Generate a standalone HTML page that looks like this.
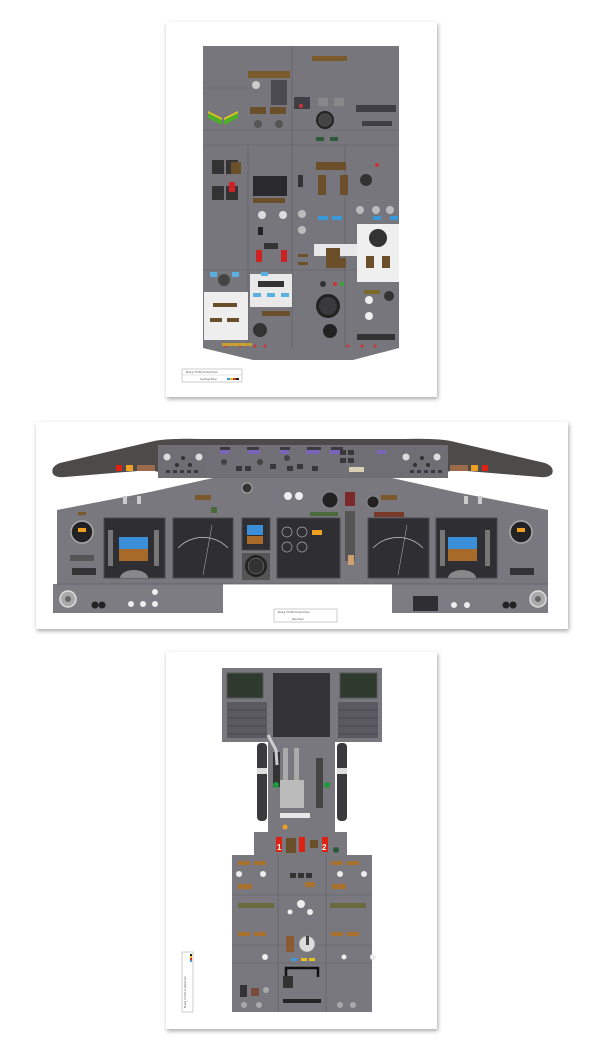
<!DOCTYPE html>
<html><head><meta charset="utf-8"><style>
html,body{margin:0;padding:0;background:#fff;}
svg{display:block;font-family:"Liberation Sans",sans-serif;}
</style></head><body>
<svg width="604" height="1048" viewBox="0 0 604 1048" xmlns="http://www.w3.org/2000/svg">
<defs>
<filter id="sh" x="-5%" y="-5%" width="110%" height="110%"><feDropShadow dx="1" dy="2" stdDeviation="2" flood-color="#000" flood-opacity="0.35"/></filter>
</defs>
<!-- PAGE 1 overhead -->
<rect x="166" y="22" width="271" height="375" fill="#fff" filter="url(#sh)"/>
<path d="M203 46 H399 V348 L353 360 H253 L203 348 Z" fill="#76767c"/>
<g stroke="#5e5e64" stroke-width="0.6" fill="none">
<line x1="203" y1="130" x2="399" y2="130"/><line x1="203" y1="145" x2="399" y2="145"/>
<line x1="203" y1="270" x2="399" y2="270"/><line x1="292" y1="46" x2="292" y2="348"/>
<line x1="248" y1="145" x2="248" y2="348"/><line x1="345" y1="145" x2="345" y2="348"/>
<line x1="203" y1="88" x2="248" y2="88"/>
</g>
<!-- top-left details -->
<rect x="248" y="71" width="42" height="7" fill="#7a5a2a"/>
<rect x="271" y="80" width="16" height="25" fill="#4a4a50"/>
<circle cx="256" cy="85" r="4" fill="#ccc"/>
<rect x="250" y="107" width="16" height="7" fill="#6b4f2a"/><rect x="270" y="107" width="16" height="7" fill="#6b4f2a"/>
<polygon points="208,113 222,120 222,125 208,118" fill="#4caf2a"/><polygon points="208,111 222,118 222,120 208,113" fill="#e4c21c"/>
<polygon points="238,113 224,120 224,125 238,118" fill="#4caf2a"/><polygon points="238,111 224,118 224,120 238,113" fill="#e4c21c"/>
<circle cx="258" cy="124" r="4" fill="#555"/><circle cx="279" cy="124" r="4" fill="#555"/>
<rect x="294" y="97" width="16" height="12" fill="#3e3e44"/><circle cx="301" cy="106" r="2" fill="#c33"/>
<rect x="312" y="56" width="35" height="5" fill="#7a5a2a"/>
<circle cx="325" cy="120" r="9" fill="#222"/><circle cx="325" cy="120" r="7" fill="#444"/>
<rect x="318" y="98" width="10" height="8" fill="#888"/><rect x="334" y="98" width="10" height="8" fill="#888"/>
<rect x="356" y="105" width="40" height="7" fill="#3e3e44"/><rect x="362" y="121" width="30" height="5" fill="#3e3e44"/>
<rect x="316" y="137" width="8" height="4" fill="#2f5a3a"/><rect x="330" y="137" width="8" height="4" fill="#2f5a3a"/>
<!-- middle section -->
<rect x="212" y="160" width="12" height="14" fill="#333"/><rect x="226" y="160" width="12" height="14" fill="#333"/>
<rect x="212" y="186" width="12" height="14" fill="#333"/><rect x="226" y="186" width="12" height="14" fill="#333"/>
<rect x="231" y="162" width="10" height="12" fill="#6b4f2a"/>
<rect x="229" y="182" width="6" height="10" fill="#c22"/>
<rect x="253" y="176" width="34" height="20" fill="#2a2a2e"/>
<rect x="253" y="198" width="32" height="5" fill="#6b4f2a"/>
<circle cx="262" cy="215" r="4" fill="#ddd"/><circle cx="283" cy="215" r="4" fill="#ddd"/>
<rect x="258" y="227" width="5" height="8" fill="#222"/>
<rect x="256" y="250" width="6" height="12" fill="#c22"/><rect x="281" y="250" width="6" height="12" fill="#c22"/>
<rect x="264" y="243" width="14" height="6" fill="#333"/>
<rect x="316" y="162" width="30" height="8" fill="#6b4f2a"/>
<rect x="318" y="175" width="8" height="20" fill="#6b4f2a"/><rect x="340" y="175" width="8" height="20" fill="#6b4f2a"/>
<circle cx="366" cy="180" r="6" fill="#333"/><circle cx="377" cy="165" r="2" fill="#c33"/>
<rect x="318" y="216" width="10" height="4" fill="#3a9ad9"/><rect x="332" y="216" width="10" height="4" fill="#3a9ad9"/>
<rect x="373" y="216" width="8" height="4" fill="#3a9ad9"/><rect x="390" y="216" width="8" height="4" fill="#3a9ad9"/>
<circle cx="360" cy="210" r="4" fill="#bbb"/><circle cx="376" cy="210" r="4" fill="#bbb"/><circle cx="390" cy="210" r="4" fill="#bbb"/>
<rect x="298" y="175" width="5" height="12" fill="#333"/>
<circle cx="302" cy="214" r="4" fill="#bbb"/><circle cx="302" cy="230" r="4" fill="#bbb"/>
<rect x="314" y="244" width="44" height="12" fill="#e8e8ea"/>
<rect x="326" y="248" width="14" height="10" fill="#6b4f2a"/>
<rect x="326" y="258" width="20" height="10" fill="#6b4f2a"/>
<rect x="357" y="224" width="42" height="58" fill="#efefef"/>
<circle cx="378" cy="238" r="9" fill="#333"/>
<rect x="366" y="256" width="8" height="12" fill="#6b4f2a"/><rect x="382" y="256" width="8" height="12" fill="#6b4f2a"/>
<rect x="298" y="254" width="10" height="3" fill="#6b4f2a"/><rect x="298" y="262" width="10" height="3" fill="#6b4f2a"/>
<!-- lower -->
<rect x="210" y="272" width="7" height="5" fill="#5ab0e0"/><rect x="232" y="272" width="7" height="5" fill="#5ab0e0"/>
<circle cx="224" cy="280" r="6" fill="#444"/>
<rect x="204" y="292" width="44" height="48" fill="#eeeeee"/>
<rect x="213" y="303" width="24" height="4" fill="#6b4f2a"/><rect x="210" y="318" width="12" height="4" fill="#6b4f2a"/><rect x="227" y="318" width="12" height="4" fill="#6b4f2a"/>
<rect x="250" y="274" width="42" height="33" fill="#e9e9ea"/>
<rect x="258" y="281" width="26" height="6" fill="#333"/>
<rect x="253" y="293" width="8" height="4" fill="#5ab0e0"/><rect x="267" y="293" width="8" height="4" fill="#5ab0e0"/><rect x="281" y="293" width="8" height="4" fill="#5ab0e0"/>
<rect x="261" y="272" width="7" height="4" fill="#5ab0e0"/>
<circle cx="260" cy="330" r="7" fill="#333"/>
<rect x="262" y="311" width="28" height="5" fill="#6b4f2a"/>
<circle cx="328" cy="306" r="12" fill="#222"/><circle cx="328" cy="306" r="9" fill="#3a3a3e"/>
<circle cx="330" cy="331" r="7" fill="#222"/>
<circle cx="323" cy="284" r="3" fill="#333"/><circle cx="335" cy="284" r="2" fill="#c33"/><circle cx="342" cy="284" r="2" fill="#3a3"/>
<rect x="364" y="290" width="16" height="4" fill="#7a6a2a"/>
<circle cx="369" cy="300" r="4" fill="#eee"/><circle cx="369" cy="316" r="4" fill="#eee"/>
<circle cx="389" cy="296" r="5" fill="#333"/>
<rect x="357" y="334" width="38" height="6" fill="#333"/>
<g fill="#c33"><circle cx="226" cy="346" r="1.5"/><circle cx="240" cy="346" r="1.5"/><circle cx="255" cy="346" r="1.5"/><circle cx="265" cy="346" r="1.5"/><circle cx="348" cy="346" r="1.5"/><circle cx="362" cy="346" r="1.5"/><circle cx="375" cy="346" r="1.5"/></g>
<rect x="222" y="343" width="30" height="3" fill="#c9a030"/>
<rect x="182" y="369" width="60" height="13" fill="#fff" stroke="#999" stroke-width="0.5"/>
<line x1="182" y1="375" x2="242" y2="375" stroke="#bbb" stroke-width="0.4"/>
<text x="186" y="373" font-size="2.3" fill="#555">Boeing 737-800 Cockpit Poster</text>
<text x="200" y="380" font-size="2.3" fill="#555">Overhead Panel</text>
<rect x="227" y="378" width="3" height="2" fill="#3a9ad9"/><rect x="230" y="378" width="3" height="2" fill="#e4c21c"/><rect x="233" y="378" width="3" height="2" fill="#c33"/><rect x="236" y="378" width="3" height="2" fill="#222"/>

<!-- PAGE 2 main panel -->
<rect x="36" y="422" width="532" height="207" fill="#fff" filter="url(#sh)"/>
<!-- main panel body -->
<path d="M57 510 L150 492 L213 478 H392 L455 492 L548 510 V584 H392 V613 H392 V584 H223 V584 H57 Z" fill="#78787e"/>
<path d="M53 584 H223 V613 H53 Z" fill="#7c7c82"/>
<path d="M392 584 H548 V613 H392 Z" fill="#7c7c82"/>
<line x1="57" y1="584" x2="548" y2="584" stroke="#5e5e64" stroke-width="0.8"/>
<!-- glareshield -->
<path d="M53 474 Q50 467 60 463 L150 442 Q165 438 200 439 H404 Q440 438 455 442 L545 463 Q555 467 552 474 Q548 478 540 477 L455 470 L420 478 H185 L150 470 L65 477 Q56 478 53 474 Z" fill="#4d4a4a"/>
<rect x="158" y="445" width="290" height="33" fill="#6e6e74"/>
<rect x="206" y="446" width="144" height="31" fill="#707076"/>
<g fill="#ddd"><circle cx="167" cy="457" r="3.5"/><circle cx="199" cy="457" r="3.5"/><circle cx="406" cy="457" r="3.5"/><circle cx="437" cy="457" r="3.5"/></g>
<g fill="#333"><circle cx="183" cy="458" r="2"/><circle cx="177" cy="465" r="2"/><circle cx="190" cy="465" r="2"/><circle cx="422" cy="458" r="2"/><circle cx="415" cy="465" r="2"/><circle cx="428" cy="465" r="2"/></g>
<g fill="#3a3a40"><rect x="220" y="447" width="10" height="3"/><rect x="247" y="447" width="12" height="3"/><rect x="280" y="447" width="10" height="3"/><rect x="307" y="447" width="14" height="3"/><rect x="331" y="447" width="12" height="3"/></g>
<g fill="#7a66b8"><rect x="220" y="450" width="9" height="4"/><rect x="248" y="450" width="12" height="4"/><rect x="280" y="450" width="9" height="4"/><rect x="306" y="450" width="14" height="4"/><rect x="330" y="450" width="12" height="4"/><rect x="377" y="450" width="9" height="4"/></g>
<g fill="#38383c"><rect x="236" y="466" width="6" height="5"/><rect x="245" y="466" width="6" height="5"/><rect x="270" y="464" width="6" height="5"/><rect x="287" y="466" width="6" height="5"/><rect x="297" y="464" width="6" height="5"/><rect x="312" y="466" width="6" height="5"/><rect x="340" y="450" width="6" height="5"/><rect x="348" y="450" width="6" height="5"/><rect x="340" y="458" width="6" height="5"/><rect x="348" y="458" width="6" height="5"/></g>
<rect x="349" y="467" width="15" height="5" fill="#d8cfb4"/>
<g fill="#444"><circle cx="224" cy="462" r="3"/><circle cx="260" cy="462" r="3"/><circle cx="287" cy="458" r="3"/></g>
<rect x="116" y="465" width="6" height="6" fill="#d21"/><rect x="126" y="465" width="7" height="6" fill="#f0a020"/><rect x="137" y="465" width="18" height="6" fill="#9a6a4a"/>
<rect x="482" y="465" width="6" height="6" fill="#d21"/><rect x="471" y="465" width="7" height="6" fill="#f0a020"/><rect x="450" y="465" width="18" height="6" fill="#9a6a4a"/>
<g fill="#3a3a40"><rect x="166" y="470" width="4" height="3"/><rect x="173" y="470" width="4" height="3"/><rect x="180" y="470" width="4" height="3"/><rect x="187" y="470" width="4" height="3"/><rect x="194" y="470" width="4" height="3"/><rect x="410" y="470" width="4" height="3"/><rect x="417" y="470" width="4" height="3"/><rect x="424" y="470" width="4" height="3"/><rect x="431" y="470" width="4" height="3"/><rect x="438" y="470" width="4" height="3"/></g>
<!-- displays -->
<g fill="#2f2f33" stroke="#4a4a50" stroke-width="1">
<rect x="104" y="518" width="61" height="60"/><rect x="173" y="518" width="60" height="60"/>
<rect x="277" y="518" width="63" height="60"/><rect x="368" y="518" width="61" height="60"/><rect x="436" y="518" width="61" height="60"/>
<rect x="242" y="518" width="28" height="32"/>
</g>
<rect x="242" y="553" width="28" height="27" fill="#555"/>
<circle cx="256" cy="566" r="11" fill="#222"/><circle cx="256" cy="566" r="8" fill="#333" stroke="#888" stroke-width="0.5"/>
<!-- PFD -->
<rect x="119" y="537" width="29" height="12" fill="#3b8ed8"/><rect x="119" y="549" width="29" height="12" fill="#a86a28"/>
<rect x="448" y="537" width="29" height="12" fill="#3b8ed8"/><rect x="448" y="549" width="29" height="12" fill="#a86a28"/>
<g fill="#777"><rect x="108" y="530" width="5" height="36"/><rect x="154" y="530" width="5" height="36"/><rect x="440" y="530" width="5" height="36"/><rect x="485" y="530" width="5" height="36"/></g>
<path d="M120 578 A14 8 0 0 1 148 578 Z" fill="#888"/><path d="M448 578 A14 8 0 0 1 476 578 Z" fill="#888"/>
<rect x="247" y="525" width="16" height="10" fill="#3b8ed8"/><rect x="247" y="536" width="16" height="8" fill="#a86a28"/>
<!-- ND -->
<path d="M178 548 A35 35 0 0 1 228 548" fill="none" stroke="#ccc" stroke-width="0.7"/>
<path d="M373 548 A35 35 0 0 1 423 548" fill="none" stroke="#ccc" stroke-width="0.7"/>
<line x1="203" y1="575" x2="212" y2="525" stroke="#bbb" stroke-width="0.5"/><line x1="398" y1="575" x2="407" y2="525" stroke="#bbb" stroke-width="0.5"/>
<!-- EICAS -->
<rect x="312" y="530" width="10" height="5" fill="#f0a020"/>
<g fill="none" stroke="#aaa" stroke-width="0.7"><circle cx="287" cy="532" r="5"/><circle cx="302" cy="532" r="5"/><circle cx="287" cy="547" r="5"/><circle cx="302" cy="547" r="5"/></g>
<!-- standby clocks -->
<circle cx="82" cy="532" r="11" fill="#222" stroke="#aaa" stroke-width="1.5"/><rect x="78" y="528" width="8" height="4" fill="#f0a020"/>
<circle cx="521" cy="532" r="11" fill="#222" stroke="#aaa" stroke-width="1.5"/><rect x="517" y="528" width="8" height="4" fill="#f0a020"/>
<rect x="72" y="568" width="24" height="7" fill="#333"/><rect x="510" y="568" width="24" height="7" fill="#333"/>
<rect x="70" y="555" width="24" height="6" fill="#555"/>
<!-- center upper -->
<circle cx="247" cy="488" r="5" fill="#333" stroke="#aaa" stroke-width="1"/>
<circle cx="288" cy="496" r="4" fill="#eee"/><circle cx="299" cy="496" r="4" fill="#eee"/>
<circle cx="330" cy="500" r="8" fill="#222" stroke="#999" stroke-width="0.7"/>
<circle cx="373" cy="502" r="6" fill="#222" stroke="#999" stroke-width="0.7"/>
<rect x="345" y="492" width="10" height="14" fill="#7a2a2a"/>
<rect x="345" y="511" width="10" height="50" fill="#555"/>
<rect x="348" y="555" width="6" height="10" fill="#d0a070"/>
<rect x="195" y="495" width="16" height="5" fill="#7a5a2a"/><rect x="381" y="495" width="16" height="5" fill="#7a5a2a"/>
<rect x="374" y="512" width="30" height="5" fill="#7a3a2a"/><rect x="310" y="512" width="28" height="4" fill="#4a6a3a"/>
<rect x="211" y="507" width="6" height="6" fill="#4a6a3a"/>
<rect x="123" y="496" width="4" height="8" fill="#ccc"/><rect x="137" y="496" width="4" height="8" fill="#ccc"/>
<rect x="464" y="496" width="4" height="8" fill="#ccc"/><rect x="478" y="496" width="4" height="8" fill="#ccc"/>
<rect x="78" y="512" width="8" height="3" fill="#7a5a2a"/>
<!-- lower strips -->
<circle cx="68" cy="599" r="8" fill="#aaa" stroke="#ddd" stroke-width="1.5"/><circle cx="68" cy="599" r="3" fill="#666"/>
<circle cx="538" cy="599" r="8" fill="#aaa" stroke="#ddd" stroke-width="1.5"/><circle cx="538" cy="599" r="3" fill="#666"/>
<circle cx="95" cy="605" r="3.5" fill="#222"/><circle cx="102" cy="605" r="3.5" fill="#222"/>
<circle cx="506" cy="605" r="3.5" fill="#222"/><circle cx="513" cy="605" r="3.5" fill="#222"/>
<g fill="#eee"><circle cx="131" cy="604" r="3"/><circle cx="143" cy="604" r="3"/><circle cx="155" cy="604" r="3"/><circle cx="155" cy="592" r="3"/><circle cx="454" cy="605" r="3"/><circle cx="467" cy="605" r="3"/></g>
<rect x="413" y="596" width="25" height="15" fill="#2f2f33"/>
<rect x="274" y="609" width="63" height="13" fill="#fff" stroke="#999" stroke-width="0.5"/>
<text x="278" y="613" font-size="2.3" fill="#555">Boeing 737-800 Cockpit Poster</text>
<text x="292" y="620" font-size="2.3" fill="#555">Main Panel</text>

<!-- PAGE 3 pedestal -->
<rect x="166" y="652" width="271" height="377" fill="#fff" filter="url(#sh)"/>
<rect x="222" y="668" width="160" height="74" fill="#78787e"/>
<rect x="227" y="673" width="36" height="25" fill="#2e3a2e" stroke="#555" stroke-width="1"/>
<rect x="340" y="673" width="37" height="25" fill="#2e3a2e" stroke="#555" stroke-width="1"/>
<g fill="#5a5a60"><rect x="227" y="702" width="40" height="36"/><rect x="338" y="702" width="40" height="36"/></g>
<g stroke="#3a3a40" stroke-width="0.6">
<line x1="227" y1="710" x2="267" y2="710"/><line x1="227" y1="718" x2="267" y2="718"/><line x1="227" y1="726" x2="267" y2="726"/><line x1="227" y1="734" x2="267" y2="734"/>
<line x1="338" y1="710" x2="378" y2="710"/><line x1="338" y1="718" x2="378" y2="718"/><line x1="338" y1="726" x2="378" y2="726"/><line x1="338" y1="734" x2="378" y2="734"/>
</g>
<rect x="273" y="673" width="57" height="64" fill="#333336"/>
<rect x="268" y="742" width="67" height="90" fill="#78787e"/>
<rect x="257" y="743" width="10" height="78" rx="4" fill="#3a3a3c"/><rect x="337" y="743" width="10" height="78" rx="4" fill="#3a3a3c"/>
<rect x="257" y="768" width="10" height="6" fill="#ddd"/><rect x="337" y="768" width="10" height="6" fill="#ddd"/>
<rect x="283" y="748" width="5" height="45" fill="#aaa"/><rect x="294" y="748" width="5" height="45" fill="#aaa"/>
<rect x="280" y="780" width="24" height="28" fill="#bbb"/>
<rect x="280" y="813" width="30" height="5" fill="#e8e8e8"/>
<rect x="273" y="752" width="7" height="35" fill="#333"/>
<rect x="316" y="758" width="7" height="50" fill="#444"/>
<circle cx="276" cy="785" r="3" fill="#1c9a3c"/><circle cx="327" cy="785" r="3" fill="#1c9a3c"/>
<path d="M268 735 L276 750 L277 765" stroke="#ccc" stroke-width="3" fill="none"/>
<circle cx="285" cy="827" r="2.5" fill="#f0a020"/>
<rect x="254" y="832" width="93" height="25" fill="#78787e"/>
<rect x="276" y="837" width="6" height="15" fill="#d21"/><rect x="299" y="837" width="6" height="15" fill="#d21"/><rect x="322" y="837" width="6" height="15" fill="#d21"/>
<text x="277" y="850" font-size="8" font-weight="bold" fill="#fff">1</text>
<text x="322" y="850" font-size="8" font-weight="bold" fill="#fff">2</text>
<rect x="286" y="838" width="10" height="15" fill="#6b4f2a"/><rect x="310" y="840" width="8" height="8" fill="#6b4f2a"/>
<circle cx="336" cy="850" r="3" fill="#2a5a3a"/>
<rect x="232" y="855" width="140" height="157" fill="#78787e"/>
<g stroke="#5e5e64" stroke-width="0.6"><line x1="232" y1="895" x2="372" y2="895"/><line x1="232" y1="945" x2="372" y2="945"/><line x1="232" y1="963" x2="372" y2="963"/><line x1="278" y1="855" x2="278" y2="1012"/><line x1="326" y1="855" x2="326" y2="1012"/></g>
<g fill="#a8722e"><rect x="238" y="861" width="12" height="4"/><rect x="254" y="861" width="12" height="4"/><rect x="331" y="861" width="12" height="4"/><rect x="347" y="861" width="12" height="4"/><rect x="238" y="884" width="14" height="5"/><rect x="332" y="884" width="14" height="5"/><rect x="305" y="882" width="10" height="5"/><rect x="238" y="932" width="12" height="4"/><rect x="254" y="932" width="12" height="4"/><rect x="331" y="932" width="12" height="4"/><rect x="347" y="932" width="12" height="4"/></g>
<g fill="#6a6a40"><rect x="238" y="903" width="36" height="5"/><rect x="330" y="903" width="36" height="5"/></g>
<g fill="#eee"><circle cx="239" cy="874" r="3"/><circle cx="263" cy="874" r="3"/><circle cx="340" cy="874" r="3"/><circle cx="364" cy="874" r="3"/><circle cx="301" cy="904" r="4"/><circle cx="290" cy="912" r="2.5"/><circle cx="310" cy="912" r="3"/><circle cx="265" cy="957" r="3"/><circle cx="344" cy="957" r="2.5"/><circle cx="373" cy="957" r="3"/></g>
<g fill="#333"><rect x="290" y="873" width="6" height="5"/><rect x="298" y="873" width="6" height="5"/><rect x="306" y="873" width="6" height="5"/></g>
<circle cx="307" cy="944" r="8" fill="#ddd" stroke="#888" stroke-width="0.8"/><rect x="306" y="936" width="3" height="9" fill="#444"/>
<rect x="286" y="936" width="8" height="16" fill="#8a5a30"/>
<rect x="291" y="958" width="6" height="3" fill="#3a9ad9"/><rect x="301" y="958" width="6" height="3" fill="#e4c21c"/><rect x="309" y="958" width="6" height="3" fill="#e4c21c"/>
<path d="M286 977 V968 H318 V977" fill="none" stroke="#111" stroke-width="2.5"/>
<rect x="283" y="976" width="10" height="12" fill="#333"/>
<rect x="283" y="999" width="38" height="4" fill="#222"/>
<rect x="240" y="985" width="7" height="12" fill="#333"/><rect x="251" y="988" width="8" height="8" fill="#7a4a3a"/>
<g fill="#aaa"><circle cx="244" cy="1005" r="3"/><circle cx="259" cy="1005" r="3"/><circle cx="340" cy="1005" r="3"/><circle cx="353" cy="1005" r="3"/><circle cx="266" cy="990" r="3"/></g>
<rect x="182" y="952" width="11" height="60" fill="#fff" stroke="#999" stroke-width="0.5"/>
<rect x="190" y="954" width="2" height="2" fill="#222"/><rect x="190" y="956" width="2" height="2" fill="#e4c21c"/><rect x="190" y="958" width="2" height="2" fill="#c33"/><rect x="190" y="960" width="2" height="2" fill="#3a9ad9"/>
<text x="0" y="0" font-size="2.3" fill="#555" transform="translate(186 1008) rotate(-90)">Boeing 737-800 Cockpit Poster</text>
</svg>
</body></html>
